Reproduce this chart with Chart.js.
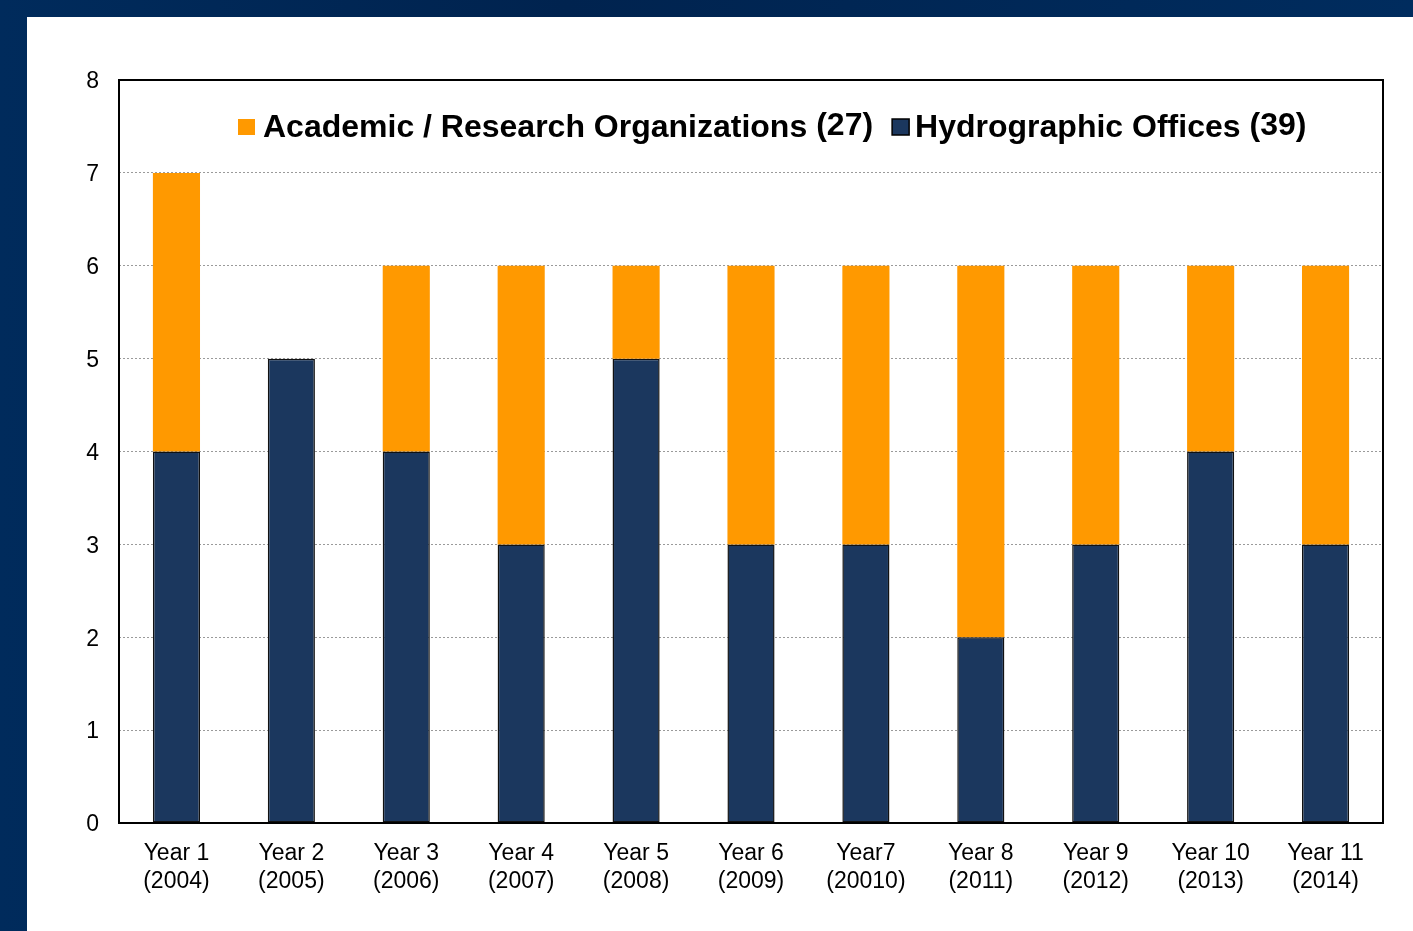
<!DOCTYPE html>
<html>
<head>
<meta charset="utf-8">
<script src="https://cdn.jsdelivr.net/npm/chart.js@4.4.1/dist/chart.umd.min.js"></script>
<style>
  html, body { margin: 0; padding: 0; }
  body { width: 1413px; height: 931px; background: linear-gradient(90deg, #002b5c 0%, #00234f 40%, #002c5e 100%); position: relative; overflow: hidden; }
  #panel { position: absolute; left: 27px; top: 17px; width: 1386px; height: 914px; background: #ffffff; }
  canvas { display: block; }
</style>
</head>
<body>
<div id="panel"><canvas id="c" width="1386" height="914"></canvas></div>
<script>
const categories = [
  ["Year 1", "(2004)"], ["Year 2", "(2005)"], ["Year 3", "(2006)"], ["Year 4", "(2007)"],
  ["Year 5", "(2008)"], ["Year 6", "(2009)"], ["Year7", "(20010)"], ["Year 8", "(2011)"],
  ["Year 9", "(2012)"], ["Year 10", "(2013)"], ["Year 11", "(2014)"]
];
const hydrographicOffices = [4, 5, 4, 3, 5, 3, 3, 2, 3, 4, 3];
const academicResearch = [3, 0, 2, 3, 1, 3, 3, 4, 3, 2, 3];
const yTicks = [0, 1, 2, 3, 4, 5, 6, 7, 8];

const NAVY = "#1b375e";
const ORANGE = "#ff9900";
const FONT = "'Liberation Sans', Arial, sans-serif";

const frameAndLegend = {
  id: "frameAndLegend",
  afterDraw(chart) {
    const ctx = chart.ctx;
    const a = chart.chartArea;
    ctx.save();
    ctx.strokeStyle = "#000";
    ctx.lineWidth = 2;
    ctx.strokeRect(a.left, a.top, a.right - a.left, a.bottom - a.top);

    // legend inside plot area: Academic first, then Hydrographic
    const order = [1, 0];
    let x = a.left + 119;
    const boxTop = a.top + 39;
    const baseline = a.top + 57;
    ctx.font = "bold 32px " + FONT;
    ctx.textBaseline = "alphabetic";
    order.forEach((di, k) => {
      const ds = chart.data.datasets[di];
      const total = ds.data.reduce((s, v) => s + v, 0);
      ctx.fillStyle = ds.backgroundColor;
      ctx.fillRect(x, boxTop, 17, 16);
      if (ds.borderWidth) {
        ctx.strokeStyle = "#000";
        ctx.lineWidth = 1.5;
        ctx.strokeRect(x, boxTop, 17, 16);
      }
      x += k === 0 ? 25 : 23;
      ctx.fillStyle = "#000";
      ctx.fillText(ds.label, x, baseline);
      x += ctx.measureText(ds.label).width + 9;
      const cnt = "(" + total + ")";
      ctx.fillText(cnt, x, baseline - 2);
      x += ctx.measureText(cnt).width + 19;
    });
    ctx.restore();
  }
};

new Chart(document.getElementById("c"), {
  type: "bar",
  data: {
    labels: categories,
    datasets: [
      { label: "Hydrographic Offices", data: hydrographicOffices, backgroundColor: NAVY, borderColor: "#111", borderWidth: 1.5, borderSkipped: false },
      { label: "Academic / Research Organizations", data: academicResearch, backgroundColor: ORANGE, borderWidth: 0 }
    ]
  },
  options: {
    responsive: false,
    animation: false,
    layout: { padding: { top: 63, right: 30, left: 0, bottom: 0 } },
    plugins: { legend: { display: false }, tooltip: { enabled: false } },
    datasets: { bar: { barPercentage: 0.41, categoryPercentage: 1.0 } },
    scales: {
      x: {
        stacked: true,
        grid: { display: false, drawTicks: false },
        border: { display: false },
        ticks: { color: "#000", font: { family: FONT, size: 23, lineHeight: 1.22 }, padding: 17, maxRotation: 0, autoSkip: false },
        afterFit(s) { s.height = 108; }
      },
      y: {
        stacked: true,
        min: 0, max: 8,
        afterBuildTicks(s) { s.ticks = yTicks.map(v => ({ value: v })); },
        grid: { color: "#9a9a9a", lineWidth: 1, drawTicks: false },
        border: { display: false, dash: [2, 2] },
        ticks: { color: "#000", font: { family: FONT, size: 23 }, padding: 20, labelOffset: 2 },
        afterFit(s) { s.width = 92; }
      }
    }
  },
  plugins: [frameAndLegend]
});
</script>
</body>
</html>
